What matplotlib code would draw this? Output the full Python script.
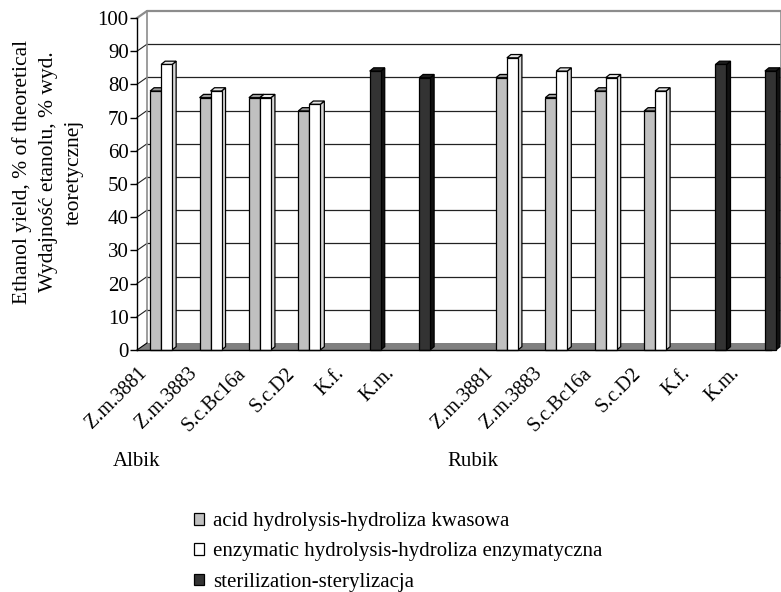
import matplotlib
matplotlib.use('Agg')
import matplotlib.pyplot as plt
from matplotlib.patches import Polygon, Patch
from matplotlib.transforms import ScaledTranslation
import numpy as np

# ---------------- data ----------------
categories = ['Z.m.3881', 'Z.m.3883', 'S.c.Bc16a', 'S.c.D2', 'K.f.', 'K.m.', '',
              'Z.m.3881', 'Z.m.3883', 'S.c.Bc16a', 'S.c.D2', 'K.f.', 'K.m.']
nan = np.nan
acid = [78, 76, 76, 72, nan, nan, nan, 82, 76, 78, 72, nan, nan]
enzymatic = [86, 78, 76, 74, nan, nan, nan, 88, 84, 82, 78, nan, nan]
sterilization = [nan, nan, nan, nan, 84, 82, nan, nan, nan, nan, nan, 86, 84]
series_names = ['acid hydrolysis-hydroliza kwasowa',
                'enzymatic hydrolysis-hydroliza enzymatyczna',
                'sterilization-sterylizacja']
groups = ['Albik', 'Rubik']
yticks = list(range(0, 101, 10))
ylabel = 'Ethanol yield, % of theoretical\nWydajność etanolu, % wyd.\nteoretycznej'

# ---------------- style ----------------
plt.rcParams['font.family'] = ['Liberation Serif', 'DejaVu Serif']
face = ['#c0c0c0', '#ffffff', '#333333']
top_c = ['#9a9a9a', '#e6e6e6', '#1e1e1e']
side_c = ['#8a8a8a', '#d9d9d9', '#111111']

W, H = 781, 592
fig = plt.figure(figsize=(W / 100, H / 100), dpi=100)
L, R, T, B = 137, 771, 18, 350
ax = fig.add_axes([L / W, 1 - B / H, (R - L) / W, (B - T) / H])
xl, xr = -0.6, 12.235
ax.set_xlim(xl, xr)
ax.set_ylim(0, 100)
ax.patch.set_visible(False)
for s in ['top', 'right']:
    ax.spines[s].set_visible(False)
ax.spines['left'].set_linewidth(1.0)
ax.spines['bottom'].set_linewidth(1.0)
ax.spines['left'].set_zorder(20)
ax.spines['bottom'].set_zorder(20)

sx = (R - L) / (xr - xl)      # px per category unit
sy = (B - T) / 100.0          # px per value unit
DX, DY = 10 / sx, 7 / sy      # wall depth in data units

# floor
ax.add_patch(Polygon([(xl, 0), (xr, 0), (xr + DX, DY), (xl + DX, DY)],
                     closed=True, facecolor='#808080', edgecolor='none',
                     zorder=1, clip_on=False))
ax.plot([xl, xl + DX], [0, DY], color='black', lw=0.8, zorder=2, clip_on=False)

# back wall gridlines and side wall diagonals
for v in yticks[1:-1]:
    ax.plot([xl + DX, xr + DX], [v + DY, v + DY], color='#222222', lw=0.9,
            zorder=1.5, clip_on=False)
    ax.plot([xl, xl + DX], [v, v + DY], color='#222222', lw=0.8,
            zorder=1.5, clip_on=False)
ax.plot([xl, xl + DX, xr + DX], [100, 100 + DY, 100 + DY], color='#8c8c8c',
        lw=1.6, zorder=1.5, clip_on=False)
ax.plot([xl + DX, xl + DX], [DY, 100 + DY], color='#8c8c8c', lw=1.2,
        zorder=1.5, clip_on=False)
ax.plot([xr + DX, xr + DX], [DY, 100 + DY], color='#8c8c8c', lw=1.2,
        zorder=1.5, clip_on=False)

# bars
bw = 11 / sx
bdx, bdy = 4 / sx, 3.3 / sy
x = np.arange(len(categories))
all_series = [acid, enzymatic, sterilization]
for k, vals in enumerate(all_series):
    vals = np.array(vals, dtype=float)
    pos = x + (k - 1) * bw
    bars = ax.bar(pos, vals, width=bw, color=face[k], edgecolor='black',
                  linewidth=0.9, clip_on=False)
    for i, (p, v, patch) in enumerate(zip(pos, vals, bars.patches)):
        z = 3 + 0.1 * (i * 3 + k)
        patch.set_zorder(z + 0.05)
        if np.isnan(v):
            continue
        x0, x1 = p - bw / 2, p + bw / 2
        ax.add_patch(Polygon([(x1, 0), (x1 + bdx, bdy), (x1 + bdx, v + bdy), (x1, v)],
                             closed=True, facecolor=side_c[k], edgecolor='black',
                             linewidth=0.9, zorder=z, clip_on=False))
        ax.add_patch(Polygon([(x0, v), (x1, v), (x1 + bdx, v + bdy), (x0 + bdx, v + bdy)],
                             closed=True, facecolor=top_c[k], edgecolor='black',
                             linewidth=0.9, zorder=z + 0.02, clip_on=False))

# y axis
ax.set_yticks(yticks)
ax.set_yticklabels([str(t) for t in yticks], fontsize=15)
ax.tick_params(axis='y', direction='out', length=5, width=1.0, pad=1)

# x axis labels
ax.set_xticks(x)
ax.set_xticklabels(categories, fontsize=14.5, rotation=45, ha='right',
                   va='top', rotation_mode='anchor')
ax.tick_params(axis='x', length=0, pad=10)
shift = ScaledTranslation(-29 / 100, 0, fig.dpi_scale_trans)
for lab in ax.get_xticklabels():
    lab.set_transform(lab.get_transform() + shift)

# y label
fig.text(48 / W, 1 - 172 / H, ylabel, rotation=90, ha='center', va='center',
         multialignment='center', fontsize=15.5, linespacing=1.48)

# group labels
fig.text(113 / W, 1 - 461 / H, groups[0], ha='left', va='center', fontsize=15)
fig.text(447 / W, 1 - 461 / H, groups[1], ha='left', va='center', fontsize=15)

# legend
handles = [Patch(facecolor=face[k], edgecolor='black', linewidth=0.9) for k in range(3)]
fig.legend(handles, series_names, loc='upper left',
           bbox_to_anchor=(194 / W, 1 - 512 / H), frameon=False, fontsize=15,
           handlelength=0.5, handleheight=0.5, handletextpad=0.4,
           labelspacing=0.55, borderpad=0, borderaxespad=0)

fig.savefig('out.png', dpi=100)
